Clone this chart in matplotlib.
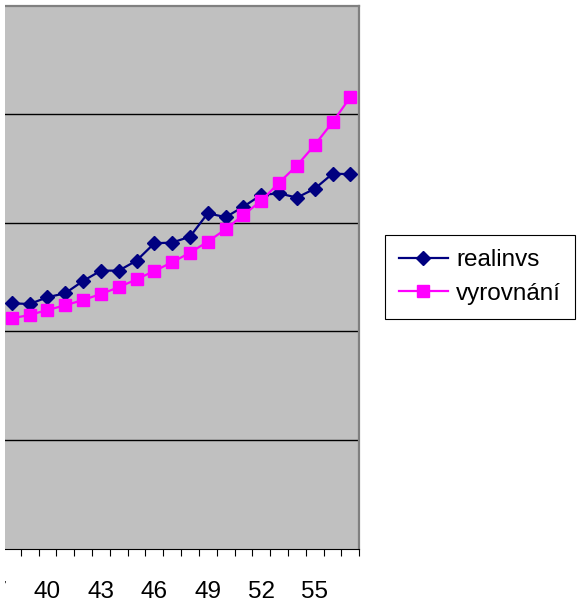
import matplotlib

matplotlib.use("Agg")
import matplotlib.pyplot as plt
import matplotlib.transforms as mtransforms
from matplotlib.patches import Rectangle
from matplotlib.ticker import FixedLocator

plt.rcParams["font.family"] = ["Liberation Sans", "DejaVu Sans"]

# categories (only the right part of the original chart is visible)
years = [38, 39, 40, 41, 42, 43, 44, 45, 46, 47,
         48, 49, 50, 51, 52, 53, 54, 55, 56, 57]
realinvs = [22.59, 22.53, 23.15, 23.52, 24.65, 25.60, 25.60, 26.52, 28.12, 28.18,
            28.73, 30.88, 30.52, 31.49, 32.57, 32.71, 32.32, 33.14, 34.52, 34.48]
vyrovnani = [21.21, 21.52, 21.98, 22.41, 22.90, 23.45, 24.07, 24.80, 25.57, 26.37,
             27.25, 28.27, 29.41, 30.73, 32.04, 33.70, 35.27, 37.17, 39.26, 41.57]
label_years = [40, 43, 46, 49, 52, 55]
cut_label = 37  # label that falls off the left edge of the picture

W, H = 577, 608
fig = plt.figure(figsize=(W / 100, H / 100), dpi=100)
left, right, top, bottom = 2.9, 359.3, 5.5, 548.8
ax = fig.add_axes([left / W, 1 - bottom / H, (right - left) / W, (bottom - top) / H])
ax.set_facecolor("#C0C0C0")

ax.plot(years, realinvs, color="#000080", lw=1.6, marker="D", ms=6.8,
        label="realinvs", zorder=3)
ax.plot(years, vyrovnani, color="#FF00FF", lw=1.6, marker="s", ms=9.2,
        label="vyrovnání", zorder=3)

ax.set_xlim(37.5, 57.5)
ax.set_ylim(0, 50)
ax.set_yticks([10, 20, 30, 40])
ax.yaxis.grid(True, color="black", lw=1.0)
ax.tick_params(axis="y", left=False, labelleft=False)

ax.xaxis.set_major_locator(FixedLocator(label_years))
ax.xaxis.set_minor_locator(FixedLocator([y + 0.5 for y in years]))
ax.tick_params(axis="x", which="major", length=0, pad=23.5, labelsize=17.5)
ax.tick_params(axis="x", which="minor", direction="out", length=5, width=0.8,
               color="black")

for side in ("top", "right"):
    ax.spines[side].set_color("#808080")
    ax.spines[side].set_linewidth(1.6)
ax.spines["left"].set_visible(False)
ax.spines["bottom"].set_color("black")
ax.spines["bottom"].set_linewidth(0.8)

trans = mtransforms.offset_copy(ax.get_xaxis_transform(), fig=fig, y=-23.5,
                                units="points")
ax.text(cut_label, 0, str(cut_label), transform=trans, ha="center", va="top",
        fontsize=17.5, clip_on=False)

# the picture is cropped: a thin white strip hides the left edge
fig.patches.append(Rectangle((0, 0), 5.0 / W, 1, transform=fig.transFigure,
                             facecolor="white", edgecolor="none", zorder=10))

leg = ax.legend(loc="upper left", bbox_to_anchor=(385 / W, 1 - 235 / H),
                bbox_transform=fig.transFigure, borderaxespad=0, fontsize=17.5,
                frameon=True, fancybox=False, edgecolor="black", framealpha=1,
                handlelength=2.0, handletextpad=0.35, borderpad=0.58,
                labelspacing=0.48)
leg.get_frame().set_linewidth(0.8)

fig.savefig("out.png", dpi=100)
